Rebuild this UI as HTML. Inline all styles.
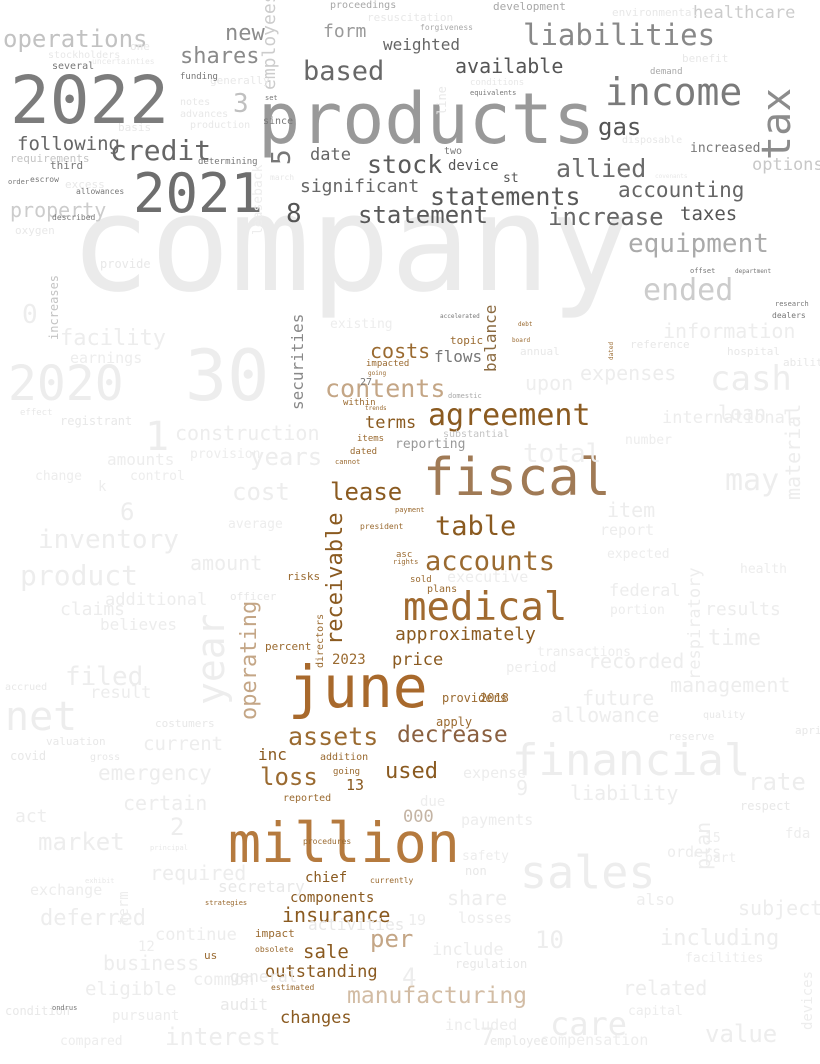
<!DOCTYPE html>
<html><head><meta charset="utf-8"><style>
html,body{margin:0;padding:0;background:#fff;}
svg{display:block;}
text{font-family:"DejaVu Sans Mono","Liberation Mono",monospace;}
</style></head><body>
<svg id="cloud" width="820" height="1064" viewBox="0 0 820 1064" xmlns="http://www.w3.org/2000/svg"></svg>
<script>
// word list, relative weights (font size), colours
const words=["company","products","2022","2021","income","tax","liabilities","operations","shares","based","credit","stock","allied","statements","statement","increase","accounting","equipment","ended","gas","taxes","available","weighted","form","significant","date","8","3","5","following","property","new","healthcare","options","increased","device","st","employees",
"fiscal","june","million","medical","agreement","accounts","table","contents","costs","terms","lease","receivable","approximately","price","operating","assets","decrease","loss","used","inc","per","insurance","manufacturing","outstanding","sale","changes","components","chief","balance","securities","flows","000","13","reporting","upon","total",
"30","2020","financial","sales","net","year","cash","may","inventory","product","care","construction","1","years","cost","amounts","6","amount","additional","claims","believes","filed","result","current","emergency","certain","market","2","act","required","exchange","deferred","continue","business","eligible","common","interest","pursuant","compared","condition","facility","earnings","registrant","change","control","provision","average","existing","information","expenses","loan","international","respiratory","item","report","expected","federal","results","time","recorded","future","allowance","management","liability","9","plan","rate","material","orders","subject","including","related","value","capital","compensation","10","include","share","losses","payments","expense","due","4","7","included","executive","health","also","period","portion","number","0","oxygen","provide","part","15","k","19","12","term","regulation","fda","devices","facilities",
"resuscitation","development","environmental","proceedings","forgiveness","stockholders","one","uncertainties","notes","advances","production","generally","basis","requirements","excess","benefit","demand","disposable","line","leaseback","march","covenants","offset","department","research","dealers","accelerated","increases","impacted","within","items","dated","cannot","risks","directors","president","payment","plans","sold","asc","going","addition","reported","currently","procedures","impact","us","obsolete","estimated","strategies","substantial","domestic","several","third","described","order","escrow","allowances","funding","determining","conditions","equivalents","set","since","two","ondrus","27","going","trends","rights","board","topic","dated","debt","percent","2023","transactions","providers","2018","apply","employee","non","safety","annual","reference","ability","hospital","respect","quality","april","reserve","valuation","covid","gross","costumers","officer","accrued","effect","exhibit","principal","secretary","activities","general","audit","design","option","approval"];
const weights=[133,70,66,54,38,40,29,24,22,27,28,25,25,25,24,24,21,26,30,24,19,20,16,18,18,17,26,26,26,19,20,22,17,17,13,14,13,18,
52,58,55,39,30,27,27,25,20,17,24,22,18,17,22,25,23,24,22,16,24,20,23,17,19,17,14,14,16,16,16,17,15,13,20,26,
70,48,44,45,40,38,34,30,26,28,32,20,40,24,24,16,24,20,17,18,16,26,17,19,21,20,24,24,18,20,15,22,17,20,19,17,24,14,13,12,22,15,12,13,13,13,13,13,20,20,20,17,17,20,15,13,17,18,22,20,20,20,20,20,20,20,24,20,15,20,22,20,24,13,15,24,17,20,15,15,15,14,24,24,15,15,13,16,14,13,13,26,11,12,13,13,14,15,14,14,12,14,14,13,
11,11,11,10,8,10,11,8,10,10,10,11,11,11,11,11,9,10,12,13,8,6,7,6,7,8,6,12,9,9,9,9,7,11,10,8,7,10,9,9,9,10,10,8,8,11,11,8,8,7,10,7,10,11,8,7,8,8,9,9,9,7,7,10,10,7,10,6,6,7,6,11,6,6,11,14,13,12,12,12,12,12,13,11,11,11,11,12,10,11,11,11,12,10,11,11,10,9,7,7];
const colors=["#ebebeb","#999999","#7c7c7c","#6e6e6e","#7a7a7a","#8c8c8c","#888888","#c2c2c2","#8a8a8a","#686868","#666666","#5a5a5a","#6a6a6a","#585858","#585858","#666666","#666666","#aaaaaa","#cccccc","#555555","#555555","#555555","#666666","#9a9a9a","#666666","#666666","#555555","#c0c0c0","#777777","#666666","#cccccc","#8c8c8c","#cccccc","#c8c8c8","#777777","#555555","#555555","#cccccc",
"#a07a55","#a8692c","#b57a3e","#a06a30","#8a5a20","#9a6a30","#8a5a20","#c4a686","#9a6a30","#8a5a20","#8a5a20","#8a5a20","#8a5a20","#8a5a20","#c4a686","#9a6a30","#8a6040","#9a6a30","#8a5a20","#8a5a20","#c4a686","#8a5a20","#d2bca4","#8a5a20","#8a5a20","#8a5a20","#8a5a20","#8a5a20","#8a6a40","#888888","#777777","#c4b4a4","#8a5a20","#999999","#eeeeee","#eeeeee"];
const grayWords=["resuscitation","environmental","stockholders","one","uncertainties","notes","advances","production","generally","basis","excess","benefit","disposable","line","leaseback","march","covenants","offset","department","research","dealers","accelerated","several","third","described","order","escrow","allowances","funding","determining","equivalents","set","since","two","ondrus","27"];
const brownWords=["impacted","within","items","dated","cannot","risks","directors","president","payment","plans","sold","asc","going","addition","reported","currently","procedures","impact","us","obsolete","estimated","strategies","trends","rights","board","topic","debt","percent","2023","apply","2018","providers"];
// layout: x, baseline y, rotation (layout only, not data)
const layout=[[70,290,0],[258,143,0],[10,123,0],[133,212,0],[605,105,0],[790,160,-90],[523,45,0],[3,47,0],[180,63,0],[303,80,0],[110,160,0],[367,173,0],[556,177,0],[430,205,0],[358,223,0],[548,225,0],[618,197,0],[628,252,0],[643,300,0],[598,135,0],[680,220,0],[455,73,0],[383,50,0],[323,37,0],[300,192,0],[310,160,0],[286,222,0],[233,112,0],[290,165,-90],[17,150,0],[10,217,0],[225,40,0],[693,18,0],[752,170,0],[690,152,0],[448,170,0],[503,182,0],[275,90,-90],
[423,495,0],[288,707,0],[228,862,0],[403,620,0],[428,425,0],[425,570,0],[435,535,0],[325,397,0],[370,358,0],[365,428,0],[330,500,0],[342,645,-90],[395,640,0],[392,665,0],[256,720,-90],[288,745,0],[397,742,0],[260,785,0],[385,778,0],[258,760,0],[370,947,0],[282,922,0],[347,1003,0],[265,977,0],[303,958,0],[280,1023,0],[290,902,0],[305,882,0],[496,372,-90],[303,410,-90],[434,362,0],[403,822,0],[346,790,0],[395,448,0],[525,390,0],[523,462,0],
[185,400,0],[8,400,0],[512,775,0],[520,888,0],[5,730,0],[224,705,-90],[710,390,0],[725,490,0],[38,548,0],[20,585,0],[550,1035,0],[175,440,0],[145,450,0],[250,465,0],[232,500,0],[107,465,0],[120,520,0],[190,570,0],[105,605,0],[60,615,0],[100,630,0],[65,685,0],[90,698,0],[143,750,0],[98,780,0],[123,810,0],[38,850,0],[170,835,0],[15,822,0],[150,880,0],[30,895,0],[40,925,0],[155,940,0],[103,970,0],[85,995,0],[193,985,0],[165,1045,0],[112,1020,0],[60,1045,0],[5,1015,0],[60,345,0],[70,363,0],[60,425,0],[35,480,0],[130,480,0],[190,458,0],[228,528,0],[330,328,0],[663,338,0],[580,380,0],[718,420,0],[662,423,0],[700,680,-90],[607,517,0],[600,535,0],[607,558,0],[609,596,0],[705,615,0],[708,645,0],[588,668,0],[582,705,0],[551,722,0],[670,692,0],[570,800,0],[516,795,0],[710,870,-90],[748,790,0],[800,500,-90],[667,857,0],[738,915,0],[660,945,0],[623,995,0],[705,1042,0],[628,1015,0],[540,1045,0],[535,948,0],[432,955,0],[447,905,0],[458,923,0],[461,825,0],[463,778,0],[420,806,0],[402,985,0],[480,1045,0],[445,1030,0],[447,582,0],[740,573,0],[636,905,0],[506,672,0],[610,614,0],[625,444,0],[22,323,0],[15,234,0],[100,268,0],[705,862,0],[705,842,0],[98,491,0],[408,925,0],[138,951,0],[128,925,-90],[455,968,0],[785,838,0],[812,1030,-90],[685,962,0],
[367,21,0],[493,10,0],[612,16,0],[330,8,0],[420,30,0],[48,58,0],[130,50,0],[92,64,0],[180,105,0],[180,117,0],[190,128,0],[210,84,0],[118,131,0],[10,162,0],[65,188,0],[682,62,0],[650,74,0],[622,143,0],[446,115,-90],[262,235,-90],[270,180,0],[655,178,0],[690,273,0],[735,273,0],[775,306,0],[772,318,0],[440,318,0],[58,340,-90],[366,366,0],[343,405,0],[357,441,0],[350,454,0],[335,464,0],[287,580,0],[323,668,-90],[360,529,0],[395,512,0],[427,592,0],[410,582,0],[396,557,0],[333,774,0],[320,760,0],[283,801,0],[370,883,0],[303,844,0],[255,937,0],[204,959,0],[255,952,0],[271,990,0],[205,905,0],[443,437,0],[448,398,0],[52,69,0],[50,169,0],[52,220,0],[8,184,0],[30,182,0],[76,194,0],[180,79,0],[198,164,0],[470,85,0],[470,95,0],[265,100,0],[263,124,0],[444,154,0],[52,1010,0],[360,385,0],[368,375,0],[365,410,0],[393,564,0],[512,342,0],[450,344,0],[613,360,-90],[518,326,0],[265,650,0],[332,664,0],[537,656,0],[442,702,0],[480,702,0],[436,726,0],[490,1045,0],[465,875,0],[462,860,0],[520,355,0],[630,348,0],[783,366,0],[727,355,0],[740,810,0],[703,718,0],[795,734,0],[668,740,0],[46,745,0],[10,760,0],[90,760,0],[155,727,0],[230,600,0],[5,690,0],[20,415,0],[85,883,0],[150,850,0],[218,892,0],[308,930,0],[230,982,0],[220,1010,0]];
const NS="http://www.w3.org/2000/svg";
const svg=document.getElementById('cloud');
function colorFor(i){
  if(colors[i]) return colors[i];
  const w=words[i];
  if(i>=200 && grayWords.indexOf(w)>=0) return "#777777";
  if(i>=200 && brownWords.indexOf(w)>=0) return "#9a6a30";
  if(w==="substantial"||w==="requirements"||w==="increases") return "#c4c4c4";
  if(w==="domestic"||w==="development"||w==="proceedings"||w==="demand"||w==="forgiveness") return "#a8a8a8";
  return weights[i]>=13?"#ededed":"#e8e8e8";
}
for(let i=0;i<words.length;i++){
  const L=layout[i]; if(!L) continue;
  const t=document.createElementNS(NS,'text');
  t.setAttribute('x',L[0]);t.setAttribute('y',L[1]);
  t.setAttribute('font-size',weights[i]);
  t.setAttribute('fill',colorFor(i));
  if(L[2]) t.setAttribute('transform','rotate('+L[2]+' '+L[0]+' '+L[1]+')');
  t.textContent=words[i];
  
  
  svg.appendChild(t);
}
</script>
</body></html>
